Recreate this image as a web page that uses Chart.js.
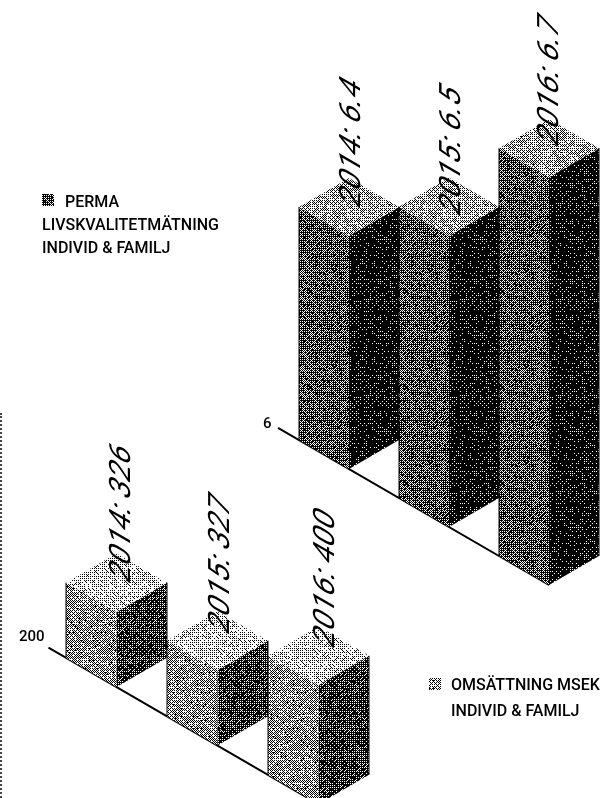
<!DOCTYPE html>
<html>
<head>
<meta charset="utf-8">
<title>Perma och omsättning</title>
<script src="https://cdn.jsdelivr.net/npm/chart.js@4"></script>
<style>
    html, body { margin: 0; padding: 0; background: #fff; }
    body { position: relative; width: 608px; height: 798px; overflow: hidden; }
    canvas { position: absolute; left: 0; top: 0; }
    #edge { position: absolute; left: 0; top: 413px; height: 385px; border-left: 2px dotted #444; }
</style>
</head>
<body>
<div id="edge"></div>
<canvas id="permaChart" width="608" height="798"></canvas>
<canvas id="omsChart" width="608" height="798"></canvas>
<script>
// Chart data
const years = ['2014', '2015', '2016'];
const permaValues = [6.4, 6.5, 6.7];
const omsValues = [326, 327, 400];
const permaAxisStart = 6;
const omsAxisStart = 200;
const permaLegend = ['PERMA', 'LIVSKVALITETMÄTNING', 'INDIVID & FAMILJ'];
const omsLegend = ['OMSÄTTNING MSEK', 'INDIVID & FAMILJ'];

// Slope of the floor in the isometric view
const SKEW = 0.58;

const BAYER = [
    [0, 32, 8, 40, 2, 34, 10, 42],
    [48, 16, 56, 24, 50, 18, 58, 26],
    [12, 44, 4, 36, 14, 46, 6, 38],
    [60, 28, 52, 20, 62, 30, 54, 22],
    [3, 35, 11, 43, 1, 33, 9, 41],
    [51, 19, 59, 27, 49, 17, 57, 25],
    [15, 47, 7, 39, 13, 45, 5, 37],
    [63, 31, 55, 23, 61, 29, 53, 21]
];

// Printed halftone: black dots on white at the given ink coverage
function halftone(ink) {
    const size = 96;
    const tile = document.createElement('canvas');
    tile.width = tile.height = size;
    const tctx = tile.getContext('2d');
    const img = tctx.createImageData(size, size);
    let seed = 12345;
    for (let y = 0; y < size; y++) {
        for (let x = 0; x < size; x++) {
            seed = (seed * 1103515245 + 12345) & 0x7fffffff;
            const jitter = ((seed >> 16) % 100) / 100 - 0.5;
            const limit = (BAYER[y % 8][x % 8] + 0.5) / 64 + jitter * 0.35;
            const v = limit < ink ? 0 : 255;
            const i = (y * size + x) * 4;
            img.data[i] = img.data[i + 1] = img.data[i + 2] = v;
            img.data[i + 3] = 255;
        }
    }
    tctx.putImageData(img, 0, 0);
    return tctx.createPattern(tile, 'repeat');
}

function face(ctx, pts, fill) {
    ctx.beginPath();
    pts.forEach((p, i) => i ? ctx.lineTo(p[0], p[1]) : ctx.moveTo(p[0], p[1]));
    ctx.closePath();
    ctx.fillStyle = fill;
    ctx.fill();
}

// Draws each bar as a block on the slanted floor, using the positions
// that the bar elements got from the scales
const blockPlugin = {
    id: 'blocks',
    afterDatasetsDraw(chart, args, opts) {
        const ctx = chart.ctx;
        const bars = chart.getDatasetMeta(0).data;
        const values = chart.data.datasets[0].data;
        const yScale = chart.scales.y;
        const floor = yScale.getPixelForValue(yScale.min);
        const step = bars[1].x - bars[0].x;
        const inks = opts.inks.map(halftone);

        ctx.save();
        // floor line, running through the front corners
        const x0 = bars[0].x;
        ctx.strokeStyle = '#000';
        ctx.lineWidth = 2;
        ctx.beginPath();
        ctx.moveTo(x0 - opts.axisLead, floor - opts.axisLead * SKEW);
        ctx.lineTo(bars[2].x, floor + 2 * step * SKEW);
        ctx.stroke();

        bars.forEach((bar, i) => {
            const half = bar.width / 2;
            const rise = half * SKEW;
            const shift = i * step * SKEW;
            const x = bar.x;
            const top = bar.y + shift;
            const base = floor + shift;

            face(ctx, [[x - half, top - rise], [x, top], [x, base], [x - half, base - rise]], inks[1]);
            face(ctx, [[x, top], [x + half, top - rise], [x + half, base - rise], [x, base]], inks[2]);
            face(ctx, [[x, top], [x - half, top - rise], [x, top - 2 * rise], [x + half, top - rise]], inks[0]);

            ctx.strokeStyle = '#000';
            ctx.lineWidth = 1;
            ctx.beginPath();
            ctx.moveTo(x - half, top - rise);
            ctx.lineTo(x - half, base - rise);
            ctx.moveTo(x + half, top - rise);
            ctx.lineTo(x + half, base - rise);
            ctx.stroke();
        });

        // value labels stand upright on the top faces
        ctx.fillStyle = '#000';
        ctx.font = opts.labelFont;
        ctx.letterSpacing = '0.5px';
        ctx.textBaseline = 'alphabetic';
        bars.forEach((bar, i) => {
            const shift = i * step * SKEW;
            ctx.save();
            ctx.setTransform(0, -0.87, 0.866, 0.5, bar.x + opts.labelDx[i], bar.y + shift + opts.labelDy[i]);
            ctx.fillText(years[i] + ': ' + values[i], 0, 0);
            ctx.restore();
        });
        ctx.letterSpacing = '0px';

        // axis start value
        ctx.font = opts.tickFont;
        ctx.textAlign = 'left';
        ctx.fillText(String(yScale.min), opts.tickPos[0], opts.tickPos[1]);

        // legend
        ctx.font = opts.legendFont;
        opts.legend.forEach((line, i) => {
            const indent = i === 0 ? opts.legendIndent : 0;
            ctx.fillText(line, opts.legendPos[0] + indent, opts.legendPos[1] + i * opts.legendGap);
        });
        ctx.fillStyle = inks[1];
        ctx.fillRect(opts.swatch[0], opts.swatch[1], 12, 12);
        ctx.restore();
    }
};

function makeBlocks(id, values, axisStart, axisEnd, padding, options) {
    return new Chart(document.getElementById(id), {
        type: 'bar',
        data: {
            labels: years,
            datasets: [{
                data: values,
                backgroundColor: 'transparent',
                barPercentage: 1,
                categoryPercentage: 1
            }]
        },
        options: {
            responsive: false,
            animation: false,
            layout: { padding: padding },
            scales: {
                x: { display: false },
                y: { display: false, min: axisStart, max: axisEnd }
            },
            plugins: {
                legend: { display: false },
                tooltip: { enabled: false },
                blocks: options
            }
        },
        plugins: [blockPlugin]
    });
}

const LEGEND_FONT = '500 16px Roboto';
const VALUE_FONT = '400 34px Roboto';

makeBlocks('permaChart', permaValues, permaAxisStart, 6.75,
    { left: 299, right: 9, top: 32, bottom: 329 },
    {
        inks: [0.36, 0.68, 0.93],
        axisLead: 71,
        labelDx: [11, 11, 9],
        labelDy: [-26, -18, -29],
        labelFont: VALUE_FONT,
        tickFont: '500 15px Roboto',
        tickPos: [263, 428],
        legend: permaLegend,
        legendFont: LEGEND_FONT,
        legendPos: [42, 207],
        legendGap: 23,
        legendIndent: 23,
        swatch: [42, 194]
    });

makeBlocks('omsChart', omsValues, omsAxisStart, 420,
    { left: 66, right: 239, top: 556, bottom: 111 },
    {
        inks: [0.22, 0.44, 0.78],
        axisLead: 68,
        labelDx: [13, 11, 15],
        labelDy: [-27, -34, -35],
        labelFont: VALUE_FONT,
        tickFont: '500 15px Roboto',
        tickPos: [19, 641],
        legend: omsLegend,
        legendFont: LEGEND_FONT,
        legendPos: [451, 690],
        legendGap: 26,
        legendIndent: 0,
        swatch: [429, 678]
    });
</script>
</body>
</html>
